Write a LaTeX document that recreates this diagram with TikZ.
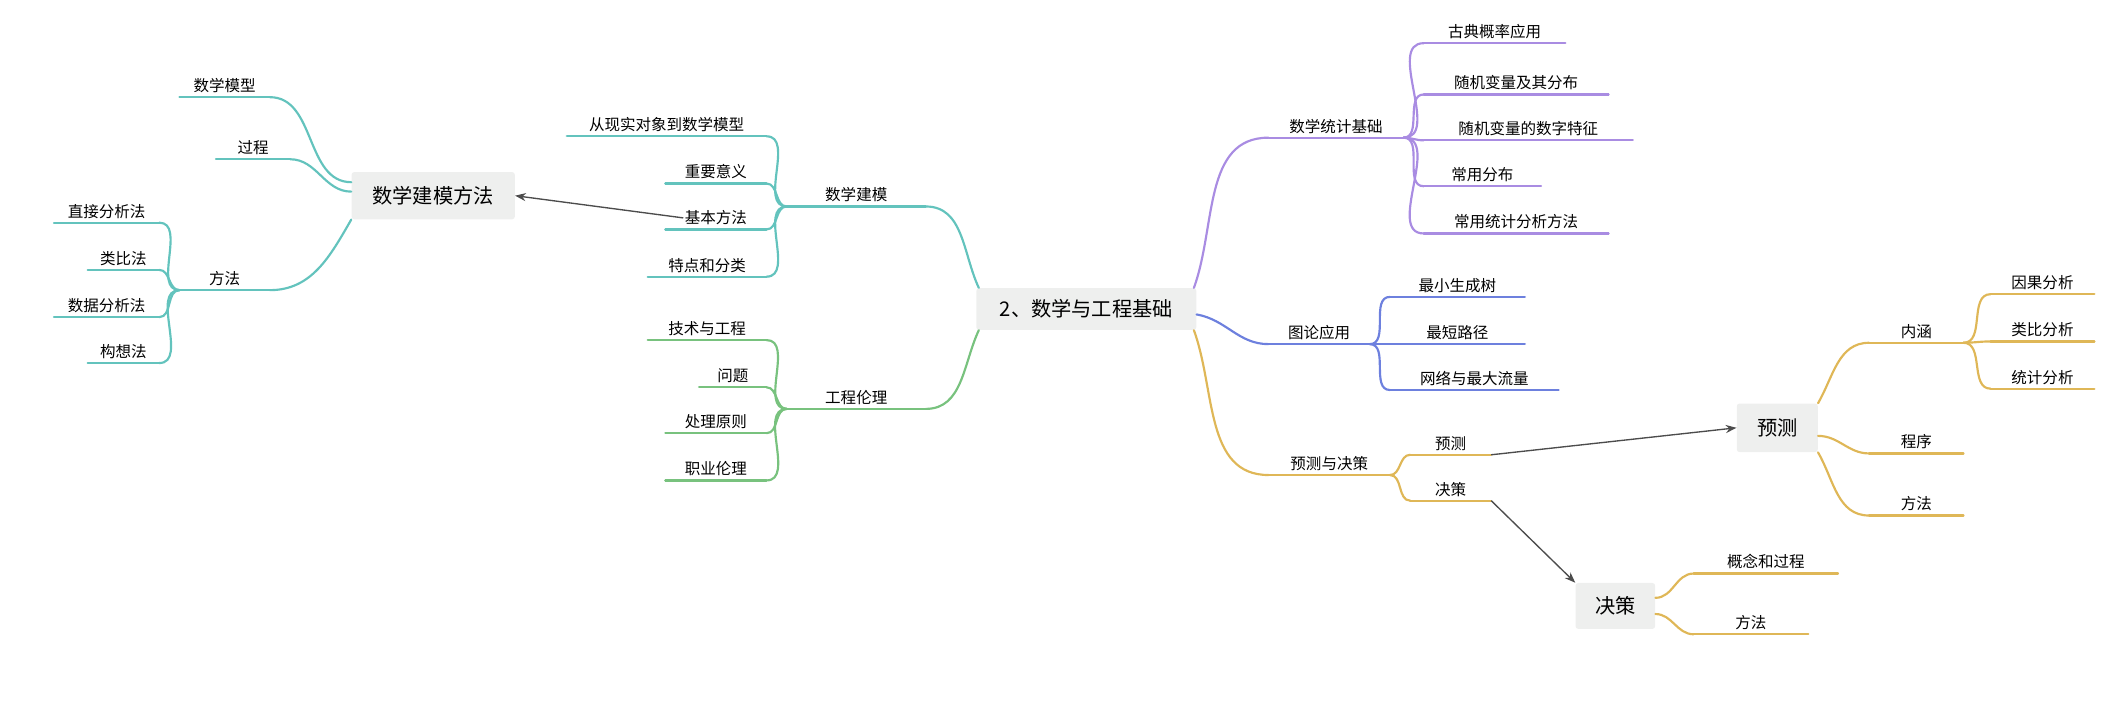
\documentclass[tikz,border=0pt]{standalone}
\usepackage{fontspec}
\setmainfont{Noto Sans CJK SC}
\usetikzlibrary{calc,arrows.meta}
\definecolor{cteal}{HTML}{63C3BD}
\definecolor{cgreen}{HTML}{78C27E}
\definecolor{cpurp}{HTML}{A98CE2}
\definecolor{cblue}{HTML}{6D80DE}
\definecolor{cyel}{HTML}{DFB757}
\definecolor{boxg}{HTML}{EEEFEE}
\newcommand{\mleaf}[6]{%
  \coordinate (#1-l) at (#2,#4); \coordinate (#1-r) at (#3,#4);
  \draw[br,#6] (#1-l) -- (#1-r);
  \node[lbl] (#1) at ($(#1-l)!.5!(#1-r)+(0,-2)$) {#5};}
\begin{document}
\begin{tikzpicture}[x=1pt,y=-1pt,
  br/.style={line width=1.6pt,line cap=round},
  lbl/.style={anchor=south,font=\fontsize{11.5}{13}\selectfont,inner sep=1pt},
  bigbox/.style={fill=boxg,rounded corners=2pt,font=\fontsize{15}{17}\selectfont,inner sep=0pt},
  arr/.style={-{Stealth[length=8pt,width=6pt]},line width=1pt,draw=black!70},
  cv/.style={br,out=0,in=180}]
\useasboundingbox (0,0) rectangle (1568,520);
\node[bigbox,minimum width=163pt,minimum height=31pt] (c) at (805,229) {2、数学与工程基础};
% ---- 数学建模
\mleaf{mj}{583}{686}{153}{数学建模}{cteal}
\draw[br,cteal] (mj-r) to[out=0,in=115] ($(c.north west)+(2,0)$);
\mleaf{m1}{420}{568}{101}{从现实对象到数学模型}{cteal}
\mleaf{m2}{493}{568}{136}{重要意义}{cteal}
\mleaf{m3}{493}{568}{170}{基本方法}{cteal}
\mleaf{m4}{480}{568}{205}{特点和分类}{cteal}
\foreach \n in {m1,m2,m3,m4} \draw[cv,cteal] (\n-r) to (mj-l);
\node[bigbox,minimum width=121pt,minimum height=35pt] (mb) at (321,145) {数学建模方法};
\draw[arr] (m3.west) -- (mb.east);
\mleaf{b1}{133}{200}{72}{数学模型}{cteal}
\mleaf{b2}{160}{215}{118}{过程}{cteal}
\mleaf{b3}{133}{200}{215}{方法}{cteal}
\draw[cv,cteal] (b1-r) to ($(mb.west)+(0,-10)$);
\draw[cv,cteal] (b2-r) to ($(mb.west)+(0,-3)$);
\draw[br,cteal] (b3-r) to[out=0,in=240] ($(mb.south west)+(0,0)$);
\mleaf{d1}{40}{118}{165}{直接分析法}{cteal}
\mleaf{d2}{65}{118}{200}{类比法}{cteal}
\mleaf{d3}{40}{118}{235}{数据分析法}{cteal}
\mleaf{d4}{65}{118}{269}{构想法}{cteal}
\foreach \n in {d1,d2,d3,d4} \draw[cv,cteal] (\n-r) to (b3-l);
% ---- 工程伦理
\mleaf{gl}{583}{686}{303}{工程伦理}{cgreen}
\draw[br,cgreen] (gl-r) to[out=0,in=245] ($(c.south west)+(2,0)$);
\mleaf{g1}{480}{568}{252}{技术与工程}{cgreen}
\mleaf{g2}{518}{568}{287}{问题}{cgreen}
\mleaf{g3}{493}{568}{321}{处理原则}{cgreen}
\mleaf{g4}{493}{568}{356}{职业伦理}{cgreen}
\foreach \n in {g1,g2,g3,g4} \draw[cv,cgreen] (\n-r) to (gl-l);
% ---- 数学统计基础
\mleaf{st}{940}{1040}{102}{数学统计基础}{cpurp}
\draw[br,cpurp] ($(c.north east)+(-2,0)$) to[out=70,in=180] (st-l);
\mleaf{s1}{1055}{1160}{32}{古典概率应用}{cpurp}
\mleaf{s2}{1055}{1192}{70}{随机变量及其分布}{cpurp}
\mleaf{s3}{1055}{1210}{104}{随机变量的数字特征}{cpurp}
\mleaf{s4}{1055}{1142}{138}{常用分布}{cpurp}
\mleaf{s5}{1055}{1192}{173}{常用统计分析方法}{cpurp}
\foreach \n in {s1,s2,s3,s4,s5} \draw[cv,cpurp] (st-r) to (\n-l);
% ---- 图论应用
\mleaf{tl}{940}{1015}{255}{图论应用}{cblue}
\draw[br,cblue] ($(c.east)+(0,4)$) to[out=-10,in=180] (tl-l);
\mleaf{t1}{1030}{1130}{220}{最小生成树}{cblue}
\mleaf{t2}{1030}{1130}{255}{最短路径}{cblue}
\mleaf{t3}{1030}{1155}{289}{网络与最大流量}{cblue}
\foreach \n in {t1,t2,t3} \draw[cv,cblue] (tl-r) to (\n-l);
% ---- 预测与决策
\mleaf{yc}{940}{1030}{352}{预测与决策}{cyel}
\draw[br,cyel] ($(c.south east)+(-2,0)$) to[out=-70,in=180] (yc-l);
\mleaf{y1}{1045}{1105}{337}{预测}{cyel}
\mleaf{y2}{1045}{1105}{371}{决策}{cyel}
\foreach \n in {y1,y2} \draw[cv,cyel] (yc-r) to (\n-l);
\node[bigbox,minimum width=60pt,minimum height=36pt] (yb) at (1317,317) {预测};
\node[bigbox,minimum width=59pt,minimum height=34pt] (jb) at (1197,449) {决策};
\draw[arr] (y1-r) -- (yb.west);
\draw[arr] (y2-r) -- (jb.north west);
\mleaf{p1}{1385}{1455}{254}{内涵}{cyel}
\mleaf{p2}{1385}{1455}{336}{程序}{cyel}
\mleaf{p3}{1385}{1455}{382}{方法}{cyel}
\draw[br,cyel] (yb.north east) to[out=60,in=180] (p1-l);
\draw[cv,cyel] ($(yb.east)+(0,6)$) to (p2-l);
\draw[br,cyel] (yb.south east) to[out=-60,in=180] (p3-l);
\mleaf{n1}{1475}{1552}{218}{因果分析}{cyel}
\mleaf{n2}{1475}{1552}{253}{类比分析}{cyel}
\mleaf{n3}{1475}{1552}{288}{统计分析}{cyel}
\foreach \n in {n1,n2,n3} \draw[cv,cyel] (p1-r) to (\n-l);
\mleaf{j1}{1255}{1362}{425}{概念和过程}{cyel}
\mleaf{j2}{1255}{1340}{470}{方法}{cyel}
\draw[cv,cyel] ($(jb.east)+(0,-6)$) to (j1-l);
\draw[cv,cyel] ($(jb.east)+(0,6)$) to (j2-l);
\end{tikzpicture}
\end{document}
